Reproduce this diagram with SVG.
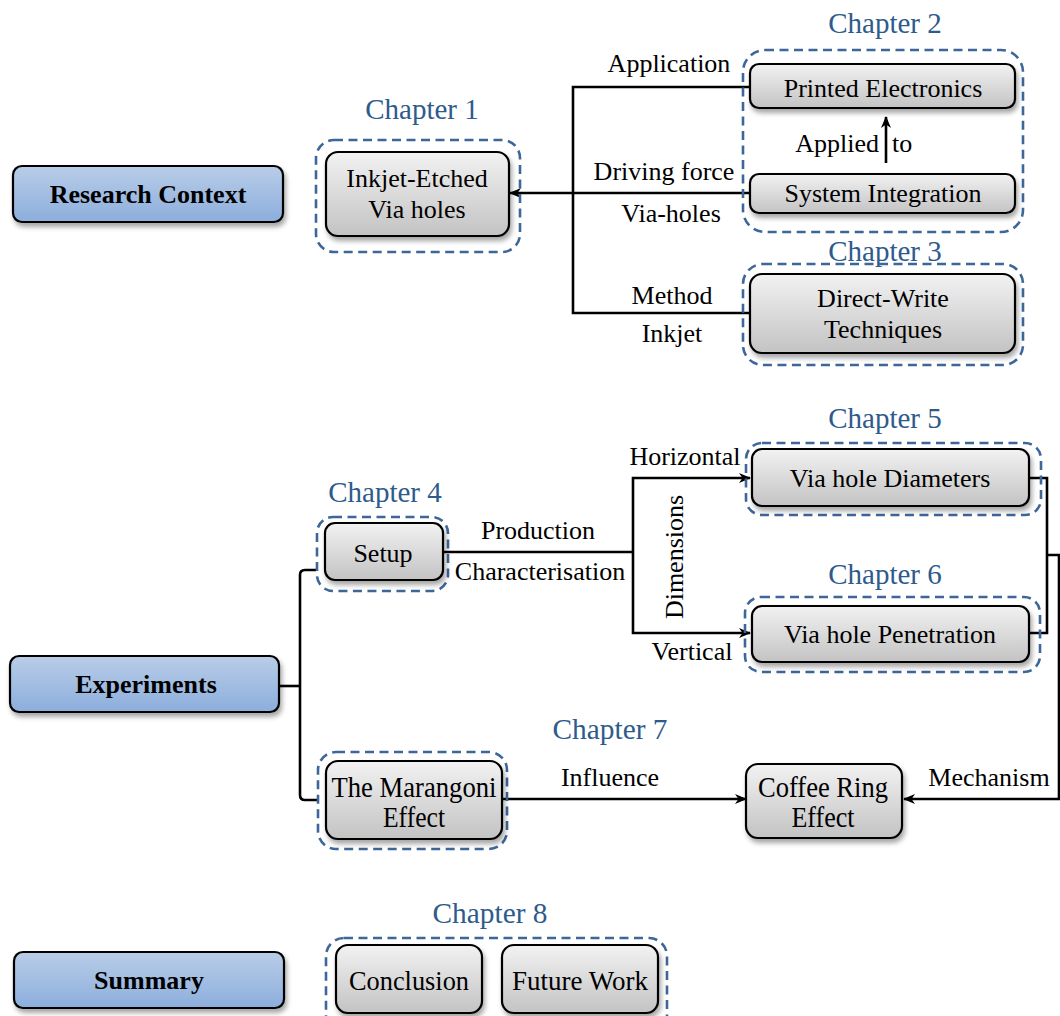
<svg xmlns="http://www.w3.org/2000/svg" width="1060" height="1016" viewBox="0 0 1060 1016">
<defs>
<linearGradient id="gGrey" x1="0" y1="0" x2="0" y2="1">
<stop offset="0" stop-color="#f2f2f2"/>
<stop offset="1" stop-color="#c3c3c3"/>
</linearGradient>
<linearGradient id="gBlue" x1="0" y1="0" x2="0" y2="1">
<stop offset="0" stop-color="#b9cde8"/>
<stop offset="1" stop-color="#8caedc"/>
</linearGradient>
<filter id="sh" x="-10%" y="-10%" width="125%" height="140%">
<feDropShadow dx="2" dy="4" stdDeviation="2.5" flood-color="#000" flood-opacity="0.35"/>
</filter>
<marker id="arr" viewBox="0 0 12 10" refX="11" refY="5" markerWidth="12" markerHeight="10" markerUnits="userSpaceOnUse" orient="auto">
<path d="M0,0 L12,5 L0,10 L3.5,5 Z" fill="#000"/>
</marker>
</defs>
<style>
.node{fill:url(#gGrey);stroke:#000;stroke-width:2.2;filter:url(#sh)}
.main{fill:url(#gBlue);stroke:#000;stroke-width:2.2;filter:url(#sh)}
.dash{fill:none;stroke:#3d6699;stroke-width:2.6;stroke-dasharray:9 5.5}
.t{font-family:"Liberation Serif","Times New Roman",serif;font-size:26px;fill:#000;text-anchor:middle}
.b{font-family:"Liberation Serif","Times New Roman",serif;font-size:26px;font-weight:bold;fill:#000;text-anchor:middle}
.ch{font-family:"Liberation Serif","Times New Roman",serif;font-size:29px;fill:#2e5b8c;text-anchor:middle}
.c{fill:none;stroke:#000;stroke-width:2.6}
</style>

<g id="connectors">
<path class="c" d="M750,87 H573 V313 H750"/>
<path class="c" d="M750,193 H510" marker-end="url(#arr)"/>
<path class="c" d="M886,163 V117" marker-end="url(#arr)"/>
<path class="c" d="M443,552 H633"/>
<path class="c" d="M633,552 V478 H750" marker-end="url(#arr)"/>
<path class="c" d="M633,552 V633 H750" marker-end="url(#arr)"/>
<path class="c" d="M1029,478 H1047 V633 H1029"/>
<path class="c" d="M1047,555 H1059 V799 H904" marker-end="url(#arr)"/>
<path class="c" d="M502,799 H746" marker-end="url(#arr)"/>
<path class="c" d="M279,686 H300"/>
<path class="c" d="M316,570 H305 Q300,570 300,575 V795 Q300,800 305,800 H318"/>
</g>

<g id="labels">
<text class="t" x="669" y="72">Application</text>
<text class="t" x="664" y="180">Driving force</text>
<text class="t" x="671" y="222">Via-holes</text>
<text class="t" x="672" y="304">Method</text>
<text class="t" x="672" y="342">Inkjet</text>
<text class="t" x="879" y="152" style="text-anchor:end">Applied</text>
<text class="t" x="892" y="152" style="text-anchor:start">to</text>
<text class="t" x="538" y="539">Production</text>
<text class="t" x="540" y="580">Characterisation</text>
<text class="t" x="685" y="465">Horizontal</text>
<text class="t" x="692" y="660">Vertical</text>
<text class="t" transform="translate(683,557) rotate(-90)">Dimensions</text>
<text class="t" x="610" y="786">Influence</text>
<text class="t" x="989" y="786">Mechanism</text>
</g>

<g id="research-context">
<rect class="main" x="13" y="166" width="270" height="56" rx="9"/>
<text class="b" x="148" y="203">Research Context</text>
</g>
<g id="experiments">
<rect class="main" x="10" y="656" width="269" height="56" rx="9"/>
<text class="b" x="146" y="693">Experiments</text>
</g>
<g id="summary">
<rect class="main" x="14" y="952" width="270" height="56" rx="9"/>
<text class="b" x="149" y="989">Summary</text>
</g>

<g id="chapter1">
<text class="ch" x="422" y="119">Chapter 1</text>
<rect class="dash" x="316" y="140" width="204" height="112" rx="18"/>
<g id="inkjet-etched">
<rect class="node" x="326" y="152" width="183" height="84" rx="12"/>
<text class="t" x="417" y="187">Inkjet-Etched</text>
<text class="t" x="417" y="218">Via holes</text>
</g>
</g>

<g id="chapter2">
<text class="ch" x="885" y="33">Chapter 2</text>
<rect class="dash" x="743" y="50" width="280" height="182" rx="22"/>
<g id="printed-electronics">
<rect class="node" x="750" y="64" width="265" height="44" rx="9"/>
<text class="t" x="883" y="97">Printed Electronics</text>
</g>
<g id="system-integration">
<rect class="node" x="750" y="174" width="265" height="39" rx="9"/>
<text class="t" x="883" y="202">System Integration</text>
</g>
</g>

<g id="chapter3">
<text class="ch" x="885" y="261">Chapter 3</text>
<rect class="dash" x="743" y="264" width="280" height="101" rx="20"/>
<g id="direct-write">
<rect class="node" x="750" y="274" width="265" height="79" rx="12"/>
<text class="t" x="883" y="307">Direct-Write</text>
<text class="t" x="883" y="338">Techniques</text>
</g>
</g>

<g id="chapter4">
<text class="ch" x="385" y="502">Chapter 4</text>
<rect class="dash" x="317" y="517" width="131" height="74" rx="16"/>
<g id="setup">
<rect class="node" x="325" y="523" width="118" height="57" rx="10"/>
<text class="t" x="383" y="562">Setup</text>
</g>
</g>

<g id="chapter5">
<text class="ch" x="885" y="428">Chapter 5</text>
<rect class="dash" x="746" y="443" width="295" height="72" rx="16"/>
<g id="via-hole-diameters">
<rect class="node" x="752" y="449" width="277" height="57" rx="10"/>
<text class="t" x="890" y="487">Via hole Diameters</text>
</g>
</g>

<g id="chapter6">
<text class="ch" x="885" y="584">Chapter 6</text>
<rect class="dash" x="745" y="597" width="295" height="75" rx="16"/>
<g id="via-hole-penetration">
<rect class="node" x="752" y="606" width="277" height="56" rx="10"/>
<text class="t" x="890" y="643">Via hole Penetration</text>
</g>
</g>

<g id="chapter7">
<text class="ch" x="610" y="739" textLength="115" lengthAdjust="spacingAndGlyphs">Chapter 7</text>
<rect class="dash" x="318" y="752" width="189" height="97" rx="18"/>
<g id="marangoni">
<rect class="node" x="326" y="761" width="176" height="78" rx="12"/>
<text class="t" x="414" y="797" style="font-size:29px" textLength="165" lengthAdjust="spacingAndGlyphs">The Marangoni</text>
<text class="t" x="414" y="827" style="font-size:29px" textLength="62" lengthAdjust="spacingAndGlyphs">Effect</text>
</g>
</g>
<g id="coffee-ring">
<rect class="node" x="746" y="764" width="156" height="74" rx="12"/>
<text class="t" x="823" y="797" style="font-size:29px" textLength="130" lengthAdjust="spacingAndGlyphs">Coffee Ring</text>
<text class="t" x="823" y="827" style="font-size:29px" textLength="63" lengthAdjust="spacingAndGlyphs">Effect</text>
</g>

<g id="chapter8">
<text class="ch" x="490" y="923" textLength="115" lengthAdjust="spacingAndGlyphs">Chapter 8</text>
<rect class="dash" x="326" y="938" width="341" height="100" rx="18"/>
<g id="conclusion">
<rect class="node" x="336" y="945" width="146" height="68" rx="12"/>
<text class="t" x="409" y="990" style="font-size:28px" textLength="120" lengthAdjust="spacingAndGlyphs">Conclusion</text>
</g>
<g id="future-work">
<rect class="node" x="502" y="945" width="156" height="68" rx="12"/>
<text class="t" x="580" y="990" style="font-size:28px" textLength="136" lengthAdjust="spacingAndGlyphs">Future Work</text>
</g>
</g>
</svg>
